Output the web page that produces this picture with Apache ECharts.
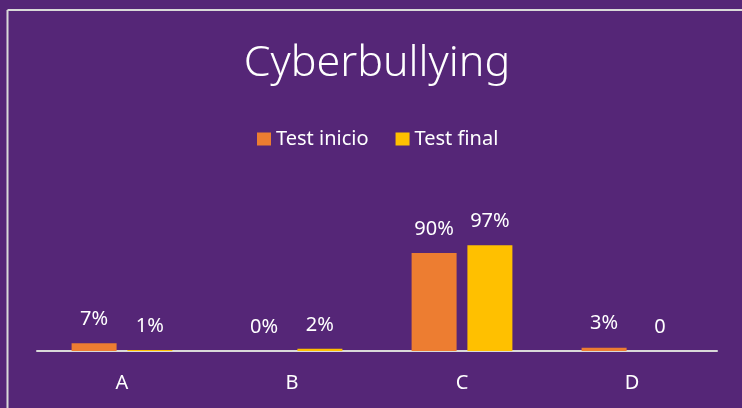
<!DOCTYPE html>
<html>
<head>
<meta charset="utf-8">
<script src="https://cdn.jsdelivr.net/npm/echarts@6/dist/echarts.min.js"></script>
<style>
html,body{margin:0;padding:0;background:#552677;}
#chart{width:742px;height:408px;}
</style>
</head>
<body>
<div id="chart"></div>
<script>
const categories = ['A', 'B', 'C', 'D'];
const seriesNames = ['Test inicio', 'Test final'];
const testInicio = [0.07, 0.00, 0.90, 0.03];
const testFinal = [0.01, 0.02, 0.97, 0.00];
const labelsInicio = ['7%', '0%', '90%', '3%'];
const labelsFinal = ['1%', '2%', '97%', '0'];

const chart = echarts.init(document.getElementById('chart'));
const font = 'Noto Sans';
function labelCfg(texts) {
  return {
    show: true,
    position: 'top',
    distance: 14,
    color: '#ffffff',
    fontFamily: font,
    fontSize: 20,
    formatter: p => texts[p.dataIndex]
  };
}
chart.setOption({
  backgroundColor: '#552677',
  animation: false,
  title: {
    text: 'Cyberbullying',
    left: 372,
    textAlign: 'center',
    top: 37,
    textStyle: {color: '#ffffff', fontFamily: font, fontWeight: 300, fontSize: 43}
  },
  legend: {
    data: seriesNames,
    top: 124,
    left: 252,
    itemWidth: 14,
    itemHeight: 13,
    itemGap: 27,
    icon: 'rect',
    textStyle: {color: '#ffffff', fontFamily: font, fontSize: 20}
  },
  grid: {left: 37, right: 25, top: 242, bottom: 57},
  xAxis: {
    type: 'category',
    data: categories,
    axisLine: {lineStyle: {color: '#d9d9d9', width: 2}},
    axisTick: {show: false},
    axisLabel: {color: '#ffffff', fontFamily: font, fontSize: 20, margin: 22}
  },
  yAxis: {
    type: 'value',
    min: 0,
    max: 1,
    show: false,
    splitLine: {show: false}
  },
  graphic: [
    {type: 'line', shape: {x1: 7.5, y1: 10, x2: 742, y2: 10}, style: {stroke: '#d9d9d9', lineWidth: 2}},
    {type: 'line', shape: {x1: 7.5, y1: 10, x2: 7.5, y2: 408}, style: {stroke: '#d9d9d9', lineWidth: 2}}
  ],
  series: [
    {name: seriesNames[0], type: 'bar', data: testInicio, barWidth: 45, barGap: '24%',
     itemStyle: {color: '#ED7D31'}, label: labelCfg(labelsInicio)},
    {name: seriesNames[1], type: 'bar', data: testFinal, barWidth: 45,
     itemStyle: {color: '#FFC000'}, label: labelCfg(labelsFinal)}
  ]
});
</script>
</body>
</html>
